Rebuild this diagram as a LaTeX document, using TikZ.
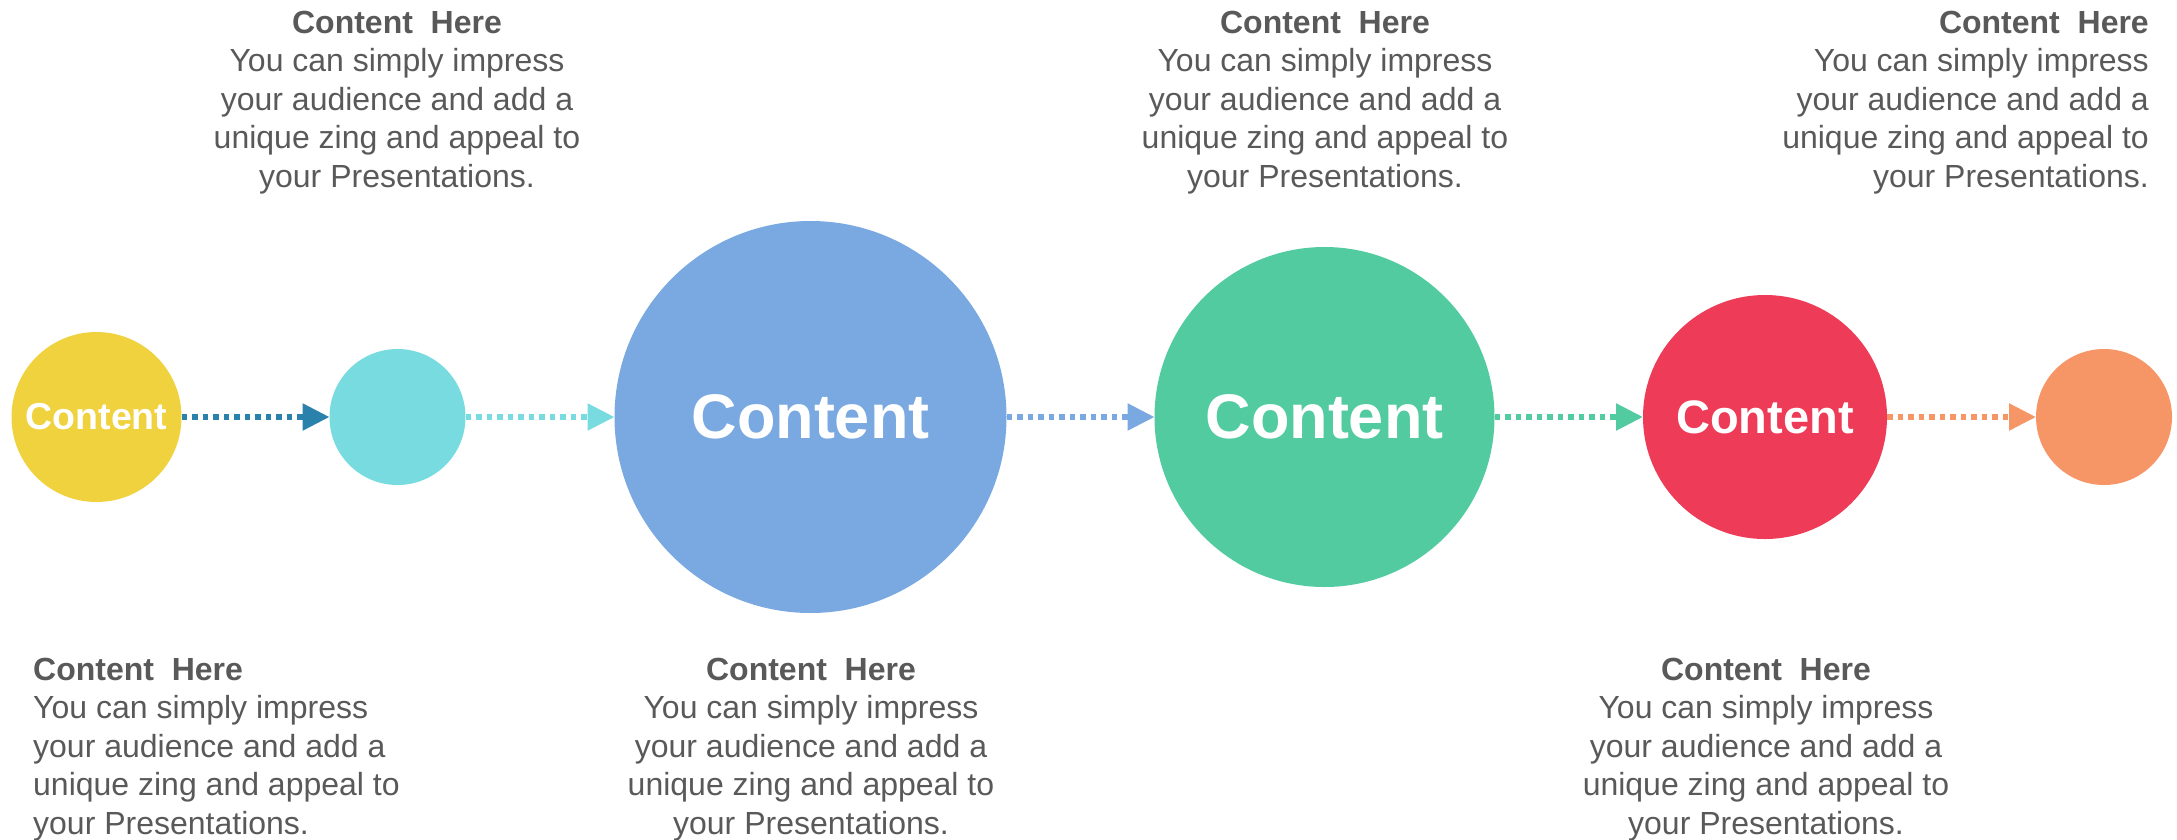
\documentclass[tikz,border=0pt]{standalone}
\usepackage{fontspec}
\setmainfont{Liberation Sans}
\usetikzlibrary{arrows.meta}

\definecolor{dotyellow}{HTML}{F0D23E}
\definecolor{dotcyan}{HTML}{78DBE0}
\definecolor{dotblue}{HTML}{79A9E0}
\definecolor{dotgreen}{HTML}{53CBA1}
\definecolor{dotred}{HTML}{EE3B57}
\definecolor{dotorange}{HTML}{F69666}
\definecolor{linkteal}{HTML}{2A82AC}
\definecolor{textgray}{HTML}{595959}

\newcommand{\zingtext}{\textbf{Content~ Here}\\You can simply impress\\your audience and add a\\unique zing and appeal to\\your Presentations.}

\begin{document}
\begin{tikzpicture}[x=1pt,y=-1pt,>={Triangle[length=27pt,width=26pt]},
	dot/.style={circle,inner sep=0pt,outer sep=0pt,text=white,font=\bfseries},
	link/.style={->,line width=5.5pt,dash pattern=on 5.5pt off 5pt},
	blurb/.style={inner sep=0pt,text=textgray,font=\fontsize{32}{38.4}\selectfont}]
	\useasboundingbox (0,0) rectangle (2177,839);
	
	% Draw the circles
	\node[dot,fill=dotyellow,minimum size=170pt,font=\fontsize{37.5}{40}\bfseries] (c1) at (96.5,417) {Content};
	\node[dot,fill=dotcyan,minimum size=136pt] (c2) at (397.5,417) {};
	\node[dot,fill=dotblue,minimum size=392pt,font=\fontsize{63}{70}\bfseries] (c3) at (810.5,417) {Content};
	\node[dot,fill=dotgreen,minimum size=340pt,font=\fontsize{63}{70}\bfseries] (c4) at (1324.5,417) {Content};
	\node[dot,fill=dotred,minimum size=244pt,font=\fontsize{47}{50}\bfseries] (c5) at (1765,417) {Content};
	\node[dot,fill=dotorange,minimum size=136pt] (c6) at (2104,417) {};
	
	% Draw the dotted arrows
	\draw[link,linkteal] (c1) -- (c2);
	\draw[link,dotcyan] (c2) -- (c3);
	\draw[link,dotblue] (c3) -- (c4);
	\draw[link,dotgreen] (c4) -- (c5);
	\draw[link,dotorange] (c5) -- (c6);
	
	% Draw the texts above
	\node[blurb,anchor=north,align=center] (t1) at (397,11) {\zingtext};
	\node[blurb,anchor=north,align=center] (t2) at (1325,11) {\zingtext};
	\node[blurb,anchor=north east,align=right] (t3) at (2149,11) {\zingtext};
	
	% Draw the texts below
	\node[blurb,anchor=north west,align=left] (b1) at (33,658) {\zingtext};
	\node[blurb,anchor=north,align=center] (b2) at (811,658) {\zingtext};
	\node[blurb,anchor=north,align=center] (b3) at (1766,658) {\zingtext};
	
\end{tikzpicture}
\end{document}
